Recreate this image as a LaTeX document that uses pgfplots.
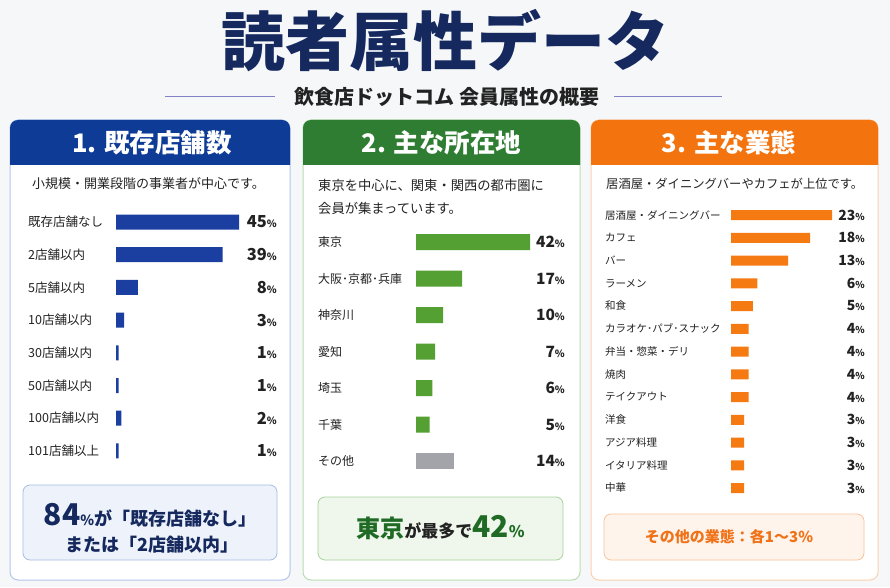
\documentclass[border=0pt]{standalone}
\usepackage{fontspec}
\setmainfont{Noto Sans CJK JP}
\usepackage{pgfplots}
\pgfplotsset{compat=1.18}
\definecolor{bg}{HTML}{F6F7F9}
\definecolor{navy}{HTML}{15295E}
\definecolor{blueH}{HTML}{0E3B96}
\definecolor{blueBar}{HTML}{1B3FA0}
\definecolor{blueBd}{HTML}{B3C6EC}
\definecolor{blueBox}{HTML}{EEF3FB}
\definecolor{blueBoxBd}{HTML}{A7BCE3}
\definecolor{greenH}{HTML}{2F7D32}
\definecolor{greenBar}{HTML}{55A032}
\definecolor{greenBd}{HTML}{B9DDB0}
\definecolor{greenBox}{HTML}{EFF6EB}
\definecolor{greenBoxBd}{HTML}{A8D29C}
\definecolor{greenTxt}{HTML}{1F6B25}
\definecolor{grayBar}{HTML}{A3A3AA}
\definecolor{orangeH}{HTML}{F3740E}
\definecolor{orangeBar}{HTML}{F57A12}
\definecolor{orangeBd}{HTML}{FAD0AE}
\definecolor{orangeBox}{HTML}{FFF4EC}
\definecolor{orangeBoxBd}{HTML}{F8C29A}
\definecolor{orangeTxt}{HTML}{F07218}
\definecolor{txt}{HTML}{222222}
\newcommand\pA[1]{{\bfseries\fontsize{16.5}{16.5}\selectfont #1}{\bfseries\fontsize{10}{10}\selectfont\%}}
\newcommand\pB[1]{{\bfseries\fontsize{15.5}{15.5}\selectfont #1}{\bfseries\fontsize{10}{10}\selectfont\%}}
\newcommand\pC[1]{{\bfseries\fontsize{14}{14}\selectfont #1}{\bfseries\fontsize{9.5}{9.5}\selectfont\%}}
\tikzset{lab/.style={anchor=west, inner xsep=0pt, text=txt}, pct/.style={anchor=east, inner xsep=0pt, text=txt}}
\begin{document}
\begin{tikzpicture}[x=1pt,y=1pt]
\useasboundingbox (0,0) rectangle (890,587);
\fill[bg] (0,0) rectangle (890,587);
% title
\node[text=navy, font=\bfseries\fontsize{64}{64}\selectfont] at (445,546) {読者属性データ};
\node[text=txt, font=\bfseries\fontsize{20}{20}\selectfont] at (447,490) {飲食店ドットコム 会員属性の概要};
\draw[color=blue!40!gray!70, line width=1pt] (165,490) -- (275,490);
\draw[color=blue!40!gray!70, line width=1pt] (614,490) -- (722,490);
% ---------- panel 1 ----------
\filldraw[fill=white, draw=blueBd, line width=1pt, rounded corners=8pt] (10,7) rectangle (290,467);
\fill[blueH] (10,422) [rounded corners=8pt] -- (10,467) -- (290,467) [sharp corners] -- (290,422) -- cycle;
\node[text=white, font=\bfseries\fontsize{25.5}{25.5}\selectfont] at (152,444) {1. 既存店舗数};
\node[text=txt, anchor=west, inner xsep=0pt, font=\fontsize{13}{13}\selectfont] at (32,403) {小規模・開業段階の事業者が中心です。};
\begin{axis}[at={(116pt,365pt)}, anchor=origin, scale only axis, width=249pt, height=261.6pt,
  xmin=-32.2, xmax=58.9, ymin=-0.5, ymax=7.5, y dir=reverse, hide axis, clip=false]
\addplot[xbar, bar width=15pt, bar shift=0pt, fill=blueBar, draw=none] coordinates {(45,0) (39,1) (8,2) (3,3) (1,4) (1,5) (2,6) (1,7)};
\begin{scope}[every node/.append style={font=\fontsize{12.5}{12.5}\selectfont}]
\node[lab] at (axis cs:-32.2,0) {既存店舗なし};
\node[lab] at (axis cs:-32.2,1) {2店舗以内};
\node[lab] at (axis cs:-32.2,2) {5店舗以内};
\node[lab] at (axis cs:-32.2,3) {10店舗以内};
\node[lab] at (axis cs:-32.2,4) {30店舗以内};
\node[lab] at (axis cs:-32.2,5) {50店舗以内};
\node[lab] at (axis cs:-32.2,6) {100店舗以内};
\node[lab] at (axis cs:-32.2,7) {101店舗以上};
\end{scope}
\node[pct] at (axis cs:58.9,0) {\pA{45}};
\node[pct] at (axis cs:58.9,1) {\pA{39}};
\node[pct] at (axis cs:58.9,2) {\pA{8}};
\node[pct] at (axis cs:58.9,3) {\pA{3}};
\node[pct] at (axis cs:58.9,4) {\pA{1}};
\node[pct] at (axis cs:58.9,5) {\pA{1}};
\node[pct] at (axis cs:58.9,6) {\pA{2}};
\node[pct] at (axis cs:58.9,7) {\pA{1}};
\end{axis}
\filldraw[fill=blueBox, draw=blueBoxBd, line width=0.8pt, rounded corners=7pt] (23,27) rectangle (277,102);
\node[text=navy, font=\bfseries] at (150,72) {{\fontsize{30}{30}\selectfont 84}{\fontsize{14}{14}\selectfont\%}{\fontsize{18}{18}\selectfont が「既存店舗なし」}};
\node[text=navy, font=\bfseries\fontsize{18}{18}\selectfont] at (152,42) {または「2店舗以内」};
% ---------- panel 2 ----------
\filldraw[fill=white, draw=greenBd, line width=1pt, rounded corners=8pt] (303,7) rectangle (580,467);
\fill[greenH] (303,422) [rounded corners=8pt] -- (303,467) -- (580,467) [sharp corners] -- (580,422) -- cycle;
\node[text=white, font=\bfseries\fontsize{25.5}{25.5}\selectfont] at (441.5,444) {2. 主な所在地};
\node[text=txt, anchor=west, inner xsep=0pt, font=\fontsize{13.3}{13.3}\selectfont] at (318,402) {東京を中心に、関東・関西の都市圏に};
\node[text=txt, anchor=west, inner xsep=0pt, font=\fontsize{13.3}{13.3}\selectfont] at (318,379) {会員が集まっています。};
\begin{axis}[at={(416pt,345pt)}, anchor=origin, scale only axis, width=247pt, height=255.5pt,
  xmin=-36.1, xmax=54.9, ymin=-0.5, ymax=6.5, y dir=reverse, hide axis, clip=false]
\addplot[xbar, bar width=16pt, bar shift=0pt, fill=greenBar, draw=none] coordinates {(42,0) (17,1) (10,2) (7,3) (6,4) (5,5)};
\addplot[xbar, bar width=16pt, bar shift=0pt, fill=grayBar, draw=none] coordinates {(14,6)};
\begin{scope}[every node/.append style={font=\fontsize{12}{12}\selectfont}]
\node[lab] at (axis cs:-36.1,0) {東京};
\node[lab] at (axis cs:-36.1,1) {大阪･京都･兵庫};
\node[lab] at (axis cs:-36.1,2) {神奈川};
\node[lab] at (axis cs:-36.1,3) {愛知};
\node[lab] at (axis cs:-36.1,4) {埼玉};
\node[lab] at (axis cs:-36.1,5) {千葉};
\node[lab] at (axis cs:-36.1,6) {その他};
\end{scope}
\node[pct] at (axis cs:54.9,0) {\pB{42}};
\node[pct] at (axis cs:54.9,1) {\pB{17}};
\node[pct] at (axis cs:54.9,2) {\pB{10}};
\node[pct] at (axis cs:54.9,3) {\pB{7}};
\node[pct] at (axis cs:54.9,4) {\pB{6}};
\node[pct] at (axis cs:54.9,5) {\pB{5}};
\node[pct] at (axis cs:54.9,6) {\pB{14}};
\end{axis}
\filldraw[fill=greenBox, draw=greenBoxBd, line width=0.8pt, rounded corners=7pt] (318,27) rectangle (563,90);
\node[font=\bfseries] at (440.5,59) {{\color{greenTxt}\fontsize{24}{24}\selectfont 東京}{\color{txt}\fontsize{17}{17}\selectfont が最多で}{\color{greenTxt}\fontsize{30}{30}\selectfont 42}{\color{greenTxt}\fontsize{16}{16}\selectfont\%}};
% ---------- panel 3 ----------
\filldraw[fill=white, draw=orangeBd, line width=1pt, rounded corners=8pt] (591,7) rectangle (878,467);
\fill[orangeH] (591,422) [rounded corners=8pt] -- (591,467) -- (878,467) [sharp corners] -- (878,422) -- cycle;
\node[text=white, font=\bfseries\fontsize{25.5}{25.5}\selectfont] at (729,444) {3. 主な業態};
\node[text=txt, anchor=west, inner xsep=0pt, font=\fontsize{12.3}{12.3}\selectfont] at (606,403) {居酒屋・ダイニングバーやカフェが上位です。};
\begin{axis}[at={(731pt,372pt)}, anchor=origin, scale only axis, width=260pt, height=295.75pt,
  xmin=-28.7, xmax=30.5, ymin=-0.5, ymax=12.5, y dir=reverse, hide axis, clip=false]
\addplot[xbar, bar width=10pt, bar shift=0pt, fill=orangeBar, draw=none] coordinates {(23,0) (18,1) (13,2) (6,3) (5,4) (4,5) (4,6) (4,7) (4,8) (3,9) (3,10) (3,11) (3,12)};
\begin{scope}[every node/.append style={font=\fontsize{10.5}{10.5}\selectfont}]
\node[lab] at (axis cs:-28.7,0) {居酒屋・ダイニングバー};
\node[lab] at (axis cs:-28.7,1) {カフェ};
\node[lab] at (axis cs:-28.7,2) {バー};
\node[lab] at (axis cs:-28.7,3) {ラーメン};
\node[lab] at (axis cs:-28.7,4) {和食};
\node[lab] at (axis cs:-28.7,5) {カラオケ･パブ･スナック};
\node[lab] at (axis cs:-28.7,6) {弁当・惣菜・デリ};
\node[lab] at (axis cs:-28.7,7) {焼肉};
\node[lab] at (axis cs:-28.7,8) {テイクアウト};
\node[lab] at (axis cs:-28.7,9) {洋食};
\node[lab] at (axis cs:-28.7,10) {アジア料理};
\node[lab] at (axis cs:-28.7,11) {イタリア料理};
\node[lab] at (axis cs:-28.7,12) {中華};
\end{scope}
\node[pct] at (axis cs:30.5,0) {\pC{23}};
\node[pct] at (axis cs:30.5,1) {\pC{18}};
\node[pct] at (axis cs:30.5,2) {\pC{13}};
\node[pct] at (axis cs:30.5,3) {\pC{6}};
\node[pct] at (axis cs:30.5,4) {\pC{5}};
\node[pct] at (axis cs:30.5,5) {\pC{4}};
\node[pct] at (axis cs:30.5,6) {\pC{4}};
\node[pct] at (axis cs:30.5,7) {\pC{4}};
\node[pct] at (axis cs:30.5,8) {\pC{4}};
\node[pct] at (axis cs:30.5,9) {\pC{3}};
\node[pct] at (axis cs:30.5,10) {\pC{3}};
\node[pct] at (axis cs:30.5,11) {\pC{3}};
\node[pct] at (axis cs:30.5,12) {\pC{3}};
\end{axis}
\filldraw[fill=orangeBox, draw=orangeBoxBd, line width=0.8pt, rounded corners=7pt] (604,27) rectangle (864,73);
\node[text=orangeTxt, font=\bfseries\fontsize{15}{15}\selectfont] at (729,50) {その他の業態：各1～3\%};
\end{tikzpicture}
\end{document}
